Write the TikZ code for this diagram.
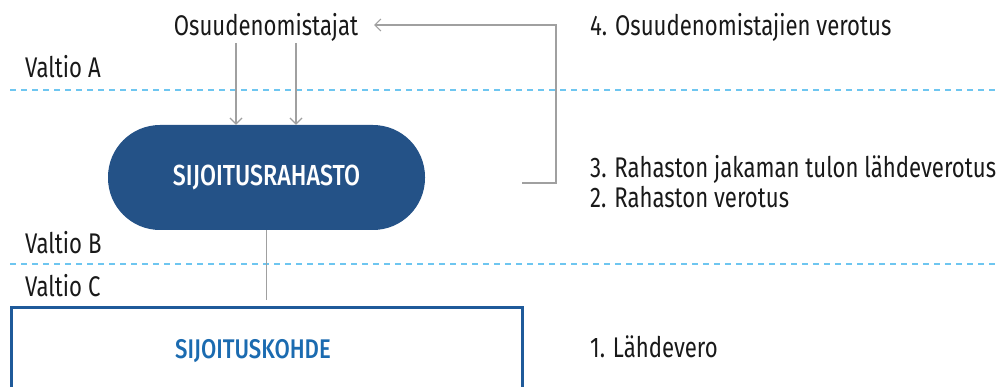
\documentclass[tikz,border=0pt]{standalone}
\usepackage{fontspec}
\setmainfont{Fira Sans}[FakeStretch=0.78]
\newfontfamily\semib{Fira Sans Medium}[FakeStretch=0.8]
\newfontfamily\semibn{Fira Sans Medium}[FakeStretch=0.82]
\usetikzlibrary{arrows.meta}
\definecolor{pillblue}{HTML}{245287}
\definecolor{boxblue}{HTML}{1F5A9A}
\definecolor{textblue}{HTML}{1B6BB0}
\definecolor{dashblue}{HTML}{6EC6F0}
\definecolor{conngray}{HTML}{A0A0A0}
\tikzset{
  lbl/.style={anchor=base west, inner sep=0pt, font=\fontsize{28.4}{32}\selectfont, text=black!90},
  sep/.style={draw=dashblue, line width=1.6pt, dash pattern=on 6pt off 5pt},
  conn/.style={draw=conngray, line width=1.4pt},
  tip/.style={-{Straight Barb[length=6pt,width=12pt,line width=1.2pt]}},
}
\begin{document}
\begin{tikzpicture}[x=1pt,y=-1pt]
\useasboundingbox (0,0) rectangle (1000,387);
\clip (0,0) rectangle (1000,387);
% separators
\draw[sep] (10,90) -- (1000,90);
\draw[sep] (10,264) -- (1000,264);
% labels
\node[lbl] (va) at (25,78) {Valtio A};
\node[lbl] (vb) at (25,253) {Valtio B};
\node[lbl] (vc) at (25,296) {Valtio C};
% top node
\node[anchor=base, inner sep=0pt, font=\fontsize{28.4}{32}\selectfont, text=black!90] (osu) at (266,36) {Osuudenomistajat};
% fund pill
\node[fill=pillblue, rounded corners=52pt, minimum width=317pt, minimum height=105pt, inner sep=0pt,
      text=white, font=\semib\fontsize{29}{32}\selectfont] (fund) at (266.5,177.5) {SIJOITUSRAHASTO};
% target box
\node[draw=boxblue, line width=3pt, minimum width=511pt, minimum height=120pt, inner sep=0pt, anchor=north] (target) at (266.5,306) {};
\node[text=textblue, font=\semibn\fontsize{27}{30}\selectfont, anchor=base, inner sep=0pt] (tlabel) at (253,358) {SIJOITUSKOHDE};
% arrows down
\coordinate (a1) at (236,43);
\coordinate (a2) at (296,43);
\draw[conn, tip] (a1) -- (a1 |- fund.north);
\draw[conn, tip] (a2) -- (a2 |- fund.north);
% vertical link
\draw[conn] (fund.south) -- ++(0,70);
% feedback
\coordinate (fb1) at (522,183);
\coordinate (fb2) at (556,183);
\coordinate (fb3) at (556,25);
\coordinate (fb4) at (374,25);
\draw[conn, tip] (fb1) -- (fb2) -- (fb3) -- (fb4);
% right texts
\node[lbl] (t4) at (590,36) {4. Osuudenomistajien verotus};
\node[lbl] (t3) at (590,178) {3. Rahaston jakaman tulon lähdeverotus};
\node[lbl] (t2) at (590,208) {2. Rahaston verotus};
\node[lbl] (t1) at (590,357) {1. Lähdevero};
\end{tikzpicture}
\end{document}
